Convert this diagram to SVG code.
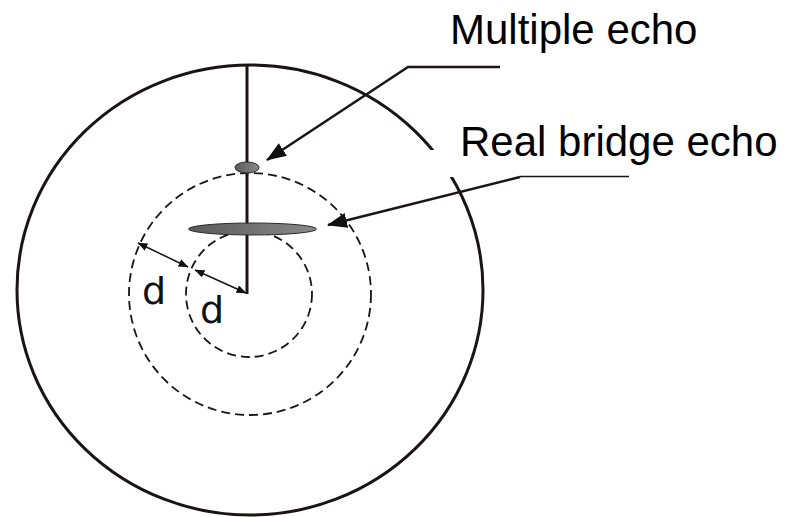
<svg xmlns="http://www.w3.org/2000/svg" width="812" height="517" viewBox="0 0 812 517">
<defs>
<marker id="bigArrow" viewBox="0 0 20 15" refX="19" refY="7.5" markerWidth="20" markerHeight="15" markerUnits="userSpaceOnUse" orient="auto">
<path d="M0,0 L20,7.5 L0,15 Z" fill="#111"/>
</marker>
<marker id="smallArrowEnd" viewBox="0 0 10 8" refX="9.5" refY="4" markerWidth="10" markerHeight="8" markerUnits="userSpaceOnUse" orient="auto">
<path d="M0,0 L10,4 L0,8 Z" fill="#111"/>
</marker>
<marker id="smallArrowStart" viewBox="0 0 10 8" refX="0.5" refY="4" markerWidth="10" markerHeight="8" markerUnits="userSpaceOnUse" orient="auto">
<path d="M10,0 L0,4 L10,8 Z" fill="#111"/>
</marker>
<linearGradient id="blobGrad" x1="0" y1="0" x2="1" y2="0">
<stop offset="0" stop-color="#5a5a5a"/>
<stop offset="1" stop-color="#8a8a8a"/>
</linearGradient>
</defs>
<style>
.solid{fill:none;stroke:#1a1414;stroke-width:3}
.dash{fill:none;stroke:#1a1414;stroke-width:1.8;stroke-dasharray:9 5}
.echo{fill:url(#blobGrad);stroke:#2a2a2a;stroke-width:1}
.label{font-family:"Liberation Sans",Arial,sans-serif;font-size:42px;fill:#000}
.d{font-family:"DejaVu Sans",sans-serif;font-size:38px;fill:#111}
.lead{fill:none;stroke:#1a1414;stroke-width:2.5}
.thin{fill:none;stroke:#1a1414;stroke-width:1.5}
</style>
<rect width="812" height="517" fill="#fff"/>
<g id="outer-circle">
<ellipse cx="250" cy="290" rx="233" ry="225" class="solid"/>
</g>
<g id="middle-circle">
<circle cx="250" cy="294" r="121" class="dash"/>
</g>
<g id="inner-circle">
<circle cx="249" cy="294" r="63" class="dash"/>
</g>
<g id="beam">
<line x1="247" y1="65" x2="247" y2="294" class="solid"/>
</g>
<g id="multiple-echo-blob">
<ellipse cx="247" cy="167.5" rx="12" ry="5.5" class="echo"/>
</g>
<g id="real-echo-blob">
<ellipse cx="252.5" cy="229" rx="64" ry="6" class="echo"/>
</g>
<g id="label-bg">
<rect x="420" y="150" width="380" height="27" fill="#fff"/>
</g>
<g id="multiple-echo-label">
<text x="450" y="44" class="label">Multiple echo</text>
</g>
<g id="real-echo-label">
<text x="460" y="156" class="label">Real bridge echo</text>
</g>
<g id="d-labels">
<text x="154" y="304" text-anchor="middle" class="d">d</text>
<text x="212" y="323" text-anchor="middle" class="d">d</text>
</g>
<g id="connectors">
<polyline points="500,67 408,67 267,160" class="lead" marker-end="url(#bigArrow)"/>
<line x1="629" y1="176.5" x2="520" y2="176.5" class="thin"/>
<line x1="520" y1="177" x2="328" y2="225" class="lead" marker-end="url(#bigArrow)"/>
<line x1="138" y1="243" x2="188" y2="267" class="thin" marker-start="url(#smallArrowStart)" marker-end="url(#smallArrowEnd)"/>
<line x1="195" y1="270" x2="246" y2="293" class="thin" marker-start="url(#smallArrowStart)" marker-end="url(#smallArrowEnd)"/>
</g>
</svg>
